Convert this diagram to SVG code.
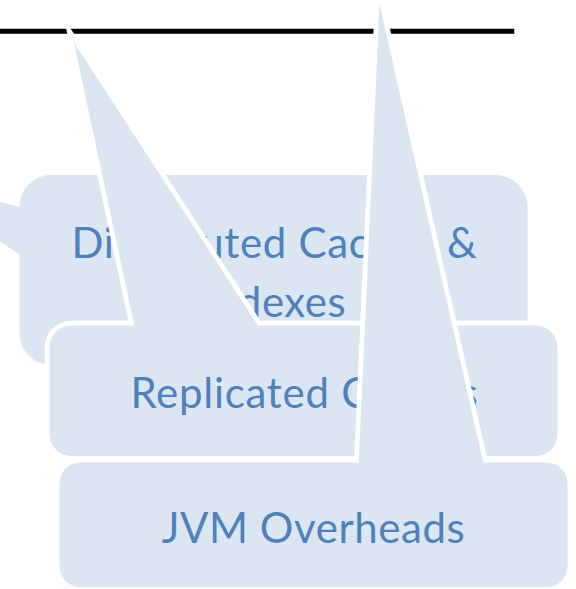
<svg xmlns="http://www.w3.org/2000/svg" width="576" height="589" viewBox="0 0 576 589">
  <style>
    .callout { fill: #DCE6F2; stroke: #FFFFFF; stroke-width: 9.5; paint-order: stroke; stroke-linejoin: miter; stroke-miterlimit: 10; }
    .label { font-family: Lato, "Open Sans", "Liberation Sans", sans-serif; font-size: 42px; fill: #4F81BD; text-anchor: middle; }
  </style>
  <rect x="0" y="0" width="576" height="589" fill="#FFFFFF"/>
  <g id="top-line">
    <line x1="0" y1="31.3" x2="514.3" y2="31.3" stroke="#000000" stroke-width="5"/>
  </g>
  <g id="connectors"></g>
  <g id="distributed-caches">
    <path class="callout" d="M 51.2 175 H 495.8 A 31.7 31.7 0 0 1 527.5 206.7 V 333.3 A 31.7 31.7 0 0 1 495.8 365 H 51.2 A 31.7 31.7 0 0 1 19.5 333.3 V 254.2 L -103.9 175.1 L 19.5 206.7 A 31.7 31.7 0 0 1 51.2 175 Z"/>
    <text class="label" x="274.2" y="258.3" textLength="405.3">Distributed Caches &amp;</text>
    <text class="label" x="273.8" y="316.7" textLength="143.6">Indexes</text>
  </g>
  <g id="replicated-caches">
    <path class="callout" d="M 71.25 325.5 H 134.2 L 74 42.5 L 258 325.5 H 535.75 A 21.75 21.75 0 0 1 557.5 347.25 V 434.25 A 21.75 21.75 0 0 1 535.75 456 H 71.25 A 21.75 21.75 0 0 1 49.5 434.25 V 347.25 A 21.75 21.75 0 0 1 71.25 325.5 Z"/>
    <text class="label" x="304" y="408.3" textLength="347.2">Replicated Caches</text>
  </g>
  <g id="jvm-overheads">
    <path class="callout" d="M 80.25 462.5 H 358.7 L 379.5 4 L 483.3 462.5 H 546.75 A 20.75 20.75 0 0 1 567.5 483.25 V 566.25 A 20.75 20.75 0 0 1 546.75 587 H 80.25 A 20.75 20.75 0 0 1 59.5 566.25 V 483.25 A 20.75 20.75 0 0 1 80.25 462.5 Z"/>
    <text class="label" x="313.2" y="543.3" textLength="303.1">JVM Overheads</text>
  </g>
</svg>
